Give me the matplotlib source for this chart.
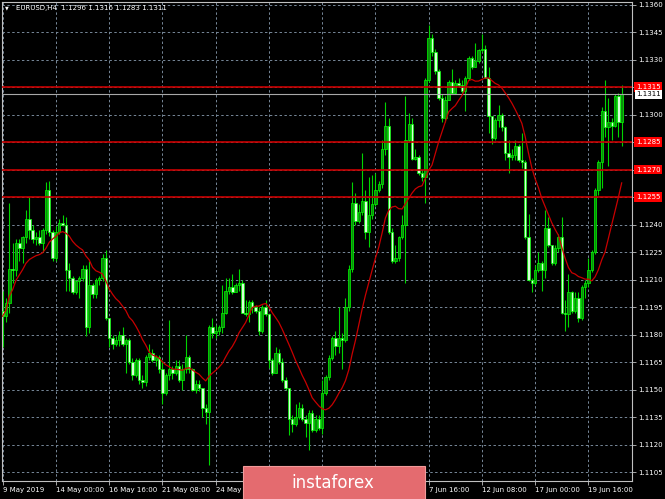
import matplotlib
matplotlib.use('Agg')
import matplotlib.pyplot as plt
import matplotlib.transforms as mtransforms
from matplotlib.patches import Rectangle
import numpy as np
import pandas as pd

plt.rcParams['font.family'] = ['DejaVu Sans']

# EURUSD H4, 9 May 2019 08:00 .. 21 Jun 2019 08:00 (open of bar = close of previous bar)
first_open = 1.1193
closes = [
    1.1190, 1.1197, 1.1216, 1.1215, 1.1230, 1.1227, 1.1233, 1.1243, 1.1237, 1.1232,
    1.1233, 1.1230, 1.1237, 1.1259, 1.1236, 1.1222, 1.1236, 1.1241, 1.1240, 1.1215,
    1.1211, 1.1203, 1.1209, 1.1211, 1.1216, 1.1184, 1.1207, 1.1202, 1.1210, 1.1211,
    1.1222, 1.1189, 1.1178, 1.1175, 1.1177, 1.1180, 1.1175, 1.1177, 1.1165, 1.1158,
    1.1166, 1.1155, 1.1154, 1.1168, 1.1170, 1.1166, 1.1168, 1.1161, 1.1148, 1.1158,
    1.1161, 1.1159, 1.1163, 1.1155, 1.1161, 1.1168, 1.1161, 1.1150, 1.1153, 1.1151,
    1.1140, 1.1138, 1.1184, 1.1181, 1.1182, 1.1184, 1.1192, 1.1204, 1.1206, 1.1203,
    1.1207, 1.1208, 1.1192, 1.1191, 1.1198, 1.1195, 1.1193, 1.1182, 1.1195, 1.1191,
    1.1166, 1.1159, 1.1170, 1.1165, 1.1155, 1.1151, 1.1134, 1.1131, 1.1135, 1.1140,
    1.1134, 1.1132, 1.1137, 1.1128, 1.1134, 1.1129, 1.1148, 1.1157, 1.1167, 1.1178,
    1.1174, 1.1178, 1.1177, 1.1195, 1.1216, 1.1252, 1.1242, 1.1247, 1.1253, 1.1236,
    1.1245, 1.1251, 1.1259, 1.1262, 1.1281, 1.1294, 1.1236, 1.1220, 1.1222, 1.1233,
    1.1240, 1.1286, 1.1295, 1.1276, 1.1277, 1.1268, 1.1266, 1.1319, 1.1342, 1.1334,
    1.1324, 1.1309, 1.1298, 1.1308, 1.1318, 1.1312, 1.1317, 1.1316, 1.1313, 1.1320,
    1.1331, 1.1326, 1.1329, 1.1335, 1.1336, 1.1320, 1.1299, 1.1287, 1.1297, 1.1300,
    1.1293, 1.1279, 1.1277, 1.1278, 1.1283, 1.1275, 1.1274, 1.1233, 1.1210, 1.1208,
    1.1215, 1.1219, 1.1215, 1.1238, 1.1229, 1.1219, 1.1227, 1.1233, 1.1192, 1.1191,
    1.1203, 1.1193, 1.1200, 1.1189, 1.1206, 1.1208, 1.1215, 1.1225, 1.1259, 1.1274,
    1.1302, 1.1293, 1.1296, 1.1294, 1.1310, 1.1296, 1.1311,
]
highs = [
    1.1204, 1.1200, 1.1252, 1.1230, 1.1232, 1.1232, 1.1234, 1.1248, 1.1255, 1.1240,
    1.1236, 1.1237, 1.1238, 1.1263, 1.1264, 1.1237, 1.1239, 1.1243, 1.1245, 1.1244,
    1.1219, 1.1212, 1.1210, 1.1212, 1.1218, 1.1218, 1.1220, 1.1208, 1.1211, 1.1212,
    1.1224, 1.1226, 1.1189, 1.1180, 1.1179, 1.1182, 1.1184, 1.1178, 1.1178, 1.1167,
    1.1167, 1.1167, 1.1158, 1.1169, 1.1175, 1.1172, 1.1169, 1.1169, 1.1166, 1.1159,
    1.1188, 1.1163, 1.1166, 1.1166, 1.1164, 1.1180, 1.1169, 1.1162, 1.1155, 1.1155,
    1.1151, 1.1142, 1.1185, 1.1189, 1.1185, 1.1185, 1.1207, 1.1211, 1.1211, 1.1213,
    1.1208, 1.1216, 1.1210, 1.1199, 1.1199, 1.1199, 1.1196, 1.1195, 1.1196, 1.1199,
    1.1191, 1.1167, 1.1173, 1.1172, 1.1167, 1.1157, 1.1151, 1.1136, 1.1142, 1.1143,
    1.1142, 1.1136, 1.1139, 1.1139, 1.1136, 1.1136, 1.1155, 1.1158, 1.1169, 1.1179,
    1.1182, 1.1195, 1.1181, 1.1200, 1.1218, 1.1263, 1.1257, 1.1251, 1.1279, 1.1259,
    1.1266, 1.1267, 1.1268, 1.1264, 1.1286, 1.1307, 1.1298, 1.1238, 1.1229, 1.1234,
    1.1245, 1.1310, 1.1301, 1.1298, 1.1281, 1.1278, 1.1270, 1.1320, 1.1349, 1.1344,
    1.1336, 1.1325, 1.1311, 1.1310, 1.1319, 1.1325, 1.1319, 1.1320, 1.1319, 1.1321,
    1.1332, 1.1332, 1.1339, 1.1336, 1.1344, 1.1338, 1.1326, 1.1299, 1.1298, 1.1305,
    1.1301, 1.1294, 1.1286, 1.1281, 1.1286, 1.1284, 1.1290, 1.1275, 1.1246, 1.1211,
    1.1218, 1.1225, 1.1220, 1.1248, 1.1244, 1.1229, 1.1229, 1.1235, 1.1244, 1.1199,
    1.1213, 1.1204, 1.1203, 1.1203, 1.1207, 1.1210, 1.1222, 1.1226, 1.1260, 1.1275,
    1.1304, 1.1319, 1.1309, 1.1298, 1.1311, 1.1312, 1.1316,
]
lows = [
    1.1173, 1.1187, 1.1192, 1.1208, 1.1212, 1.1220, 1.1219, 1.1230, 1.1232, 1.1230,
    1.1229, 1.1229, 1.1225, 1.1235, 1.1234, 1.1220, 1.1220, 1.1235, 1.1239, 1.1204,
    1.1204, 1.1202, 1.1202, 1.1200, 1.1209, 1.1179, 1.1181, 1.1200, 1.1200, 1.1207,
    1.1209, 1.1188, 1.1173, 1.1172, 1.1174, 1.1174, 1.1174, 1.1159, 1.1164, 1.1155,
    1.1157, 1.1153, 1.1151, 1.1152, 1.1166, 1.1165, 1.1163, 1.1159, 1.1142, 1.1147,
    1.1155, 1.1156, 1.1158, 1.1154, 1.1150, 1.1159, 1.1159, 1.1149, 1.1148, 1.1149,
    1.1135, 1.1131, 1.1109, 1.1178, 1.1178, 1.1180, 1.1181, 1.1191, 1.1202, 1.1202,
    1.1203, 1.1204, 1.1192, 1.1190, 1.1187, 1.1192, 1.1192, 1.1180, 1.1181, 1.1190,
    1.1162, 1.1158, 1.1159, 1.1164, 1.1154, 1.1150, 1.1125, 1.1127, 1.1130, 1.1134,
    1.1133, 1.1124, 1.1117, 1.1127, 1.1127, 1.1128, 1.1126, 1.1147, 1.1155, 1.1166,
    1.1169, 1.1170, 1.1161, 1.1176, 1.1193, 1.1214, 1.1240, 1.1241, 1.1245, 1.1232,
    1.1228, 1.1243, 1.1250, 1.1258, 1.1260, 1.1278, 1.1235, 1.1219, 1.1219, 1.1220,
    1.1232, 1.1208, 1.1285, 1.1275, 1.1275, 1.1267, 1.1264, 1.1252, 1.1318, 1.1332,
    1.1322, 1.1308, 1.1296, 1.1296, 1.1308, 1.1311, 1.1311, 1.1315, 1.1312, 1.1302,
    1.1319, 1.1325, 1.1326, 1.1328, 1.1334, 1.1320, 1.1290, 1.1284, 1.1286, 1.1293,
    1.1291, 1.1275, 1.1268, 1.1275, 1.1275, 1.1274, 1.1271, 1.1232, 1.1209, 1.1203,
    1.1207, 1.1214, 1.1204, 1.1211, 1.1228, 1.1218, 1.1218, 1.1225, 1.1191, 1.1182,
    1.1184, 1.1192, 1.1192, 1.1187, 1.1188, 1.1200, 1.1206, 1.1214, 1.1224, 1.1256,
    1.1260, 1.1288, 1.1272, 1.1286, 1.1293, 1.1288, 1.1283,
]

# time scale labels every 16 bars; the ones under the watermark are not visible
time_labels = ["9 May 2019", "14 May 00:00", "16 May 16:00", "21 May 08:00",
               "24 May", "", "", "",
               "7 Jun 16:00", "12 Jun 08:00", "17 Jun 00:00", "19 Jun 16:00"]
bars_per_label = 16

price_ticks = [1.1105, 1.1120, 1.1135, 1.1150, 1.1165, 1.1180, 1.1195, 1.1210, 1.1225,
               1.1240, 1.1255, 1.1270, 1.1285, 1.1300, 1.1315, 1.1330, 1.1345, 1.1360]
levels = [1.1315, 1.1285, 1.1270, 1.1255]
bid = 1.1311
ma_period = 14
title = "EURUSD,H4  1.1296 1.1316 1.1283 1.1311"

# ---------------------------------------------------------------
W, H = 665, 499
fig = plt.figure(figsize=(W / 100, H / 100), dpi=100, facecolor='black')
ax = fig.add_axes([2 / W, 1 - 481 / H, 630 / W, 479 / H], facecolor='black')

n = len(closes)
x = np.arange(n)
c = np.array(closes)
o = np.array([first_open] + closes[:-1])
hi = np.array(highs)
lo = np.array(lows)

grid_kw = dict(color='#778899', lw=0.7, ls=(0, (2.5, 2.5)), zorder=1)
for p in price_ticks:
    ax.axhline(p, **grid_kw)
xt = [bars_per_label * k for k in range(len(time_labels))]
for t in xt:
    ax.axvline(t, **grid_kw)

# candles
ax.vlines(x, lo, hi, color='#00d400', lw=0.8, zorder=2)
up = c >= o
body_h = np.maximum(np.abs(c - o), 0.00003)
body_b = np.minimum(c, o)
ax.bar(x[up], body_h[up], bottom=body_b[up], width=0.72,
       color='#0c8c0c', edgecolor='#00ff00', lw=0.5, zorder=3)
ax.bar(x[~up], body_h[~up], bottom=body_b[~up], width=0.72,
       color='#d8ffd8', edgecolor='#00ff00', lw=0.5, zorder=3)

# moving average
ma = pd.Series(closes).rolling(ma_period, min_periods=1).mean()
ax.plot(x, ma, color='#c80000', lw=0.9, zorder=5)

# levels and bid line
for lv in levels:
    ax.axhline(lv, color='#c80000', lw=1.2, zorder=4)
ax.axhline(bid, color='#a8a8a8', lw=0.8, zorder=4)

ax.set_xlim(-0.21, 189.1)
ax.set_ylim(1.11001, 1.13614)

for s in ax.spines.values():
    s.set_color('#c0c0c0')
    s.set_linewidth(0.8)

# price scale: levels carry their own red label, so leave those ticks blank
ax.yaxis.tick_right()
ax.set_yticks(price_ticks)
ax.set_yticklabels(['' if any(abs(p - lv) < 1e-6 for lv in levels) else f'{p:.4f}'
                    for p in price_ticks])
ax.tick_params(axis='y', colors='#c0c0c0', labelcolor='white', labelsize=5,
               length=3, width=0.6, pad=1.5)
ax.set_xticks(xt)
ax.set_xticklabels(time_labels, ha='left')
ax.tick_params(axis='x', colors='#c0c0c0', labelcolor='white', labelsize=5,
               length=3, width=0.6, pad=1.5)

trans = mtransforms.blended_transform_factory(ax.transAxes, ax.transData)
for lv in levels:
    ax.text(1.0 + 4 / 630, lv, f'{lv:.4f}', transform=trans, fontsize=5,
            color='white', ha='left', va='center', zorder=10,
            bbox=dict(boxstyle='square,pad=0.25', fc='#ff0000', ec='none'))
ax.text(1.0 + 4 / 630, bid, f'{bid:.4f}', transform=trans, fontsize=5,
        color='black', ha='left', va='center', zorder=10,
        bbox=dict(boxstyle='square,pad=0.2', fc='white', ec='none'))

# title
fig.text(5 / W, 1 - 8 / H, '\u25bc', fontsize=3.5, color='white', va='center')
fig.text(16 / W, 1 - 8 / H, title, fontsize=5, color='white', va='center')

# watermark
fig.patches.append(Rectangle((243 / W, -0.01), 182 / W, 33 / H + 0.01,
                             transform=fig.transFigure, fc='#e46b6f',
                             ec='#f29a9a', lw=0.8, zorder=20))
fig.text(333 / W, 1 - 483 / H, 'instaforex', fontsize=12, color='white',
         ha='center', va='center', zorder=21)

fig.savefig('out.png', dpi=100, facecolor='black')
